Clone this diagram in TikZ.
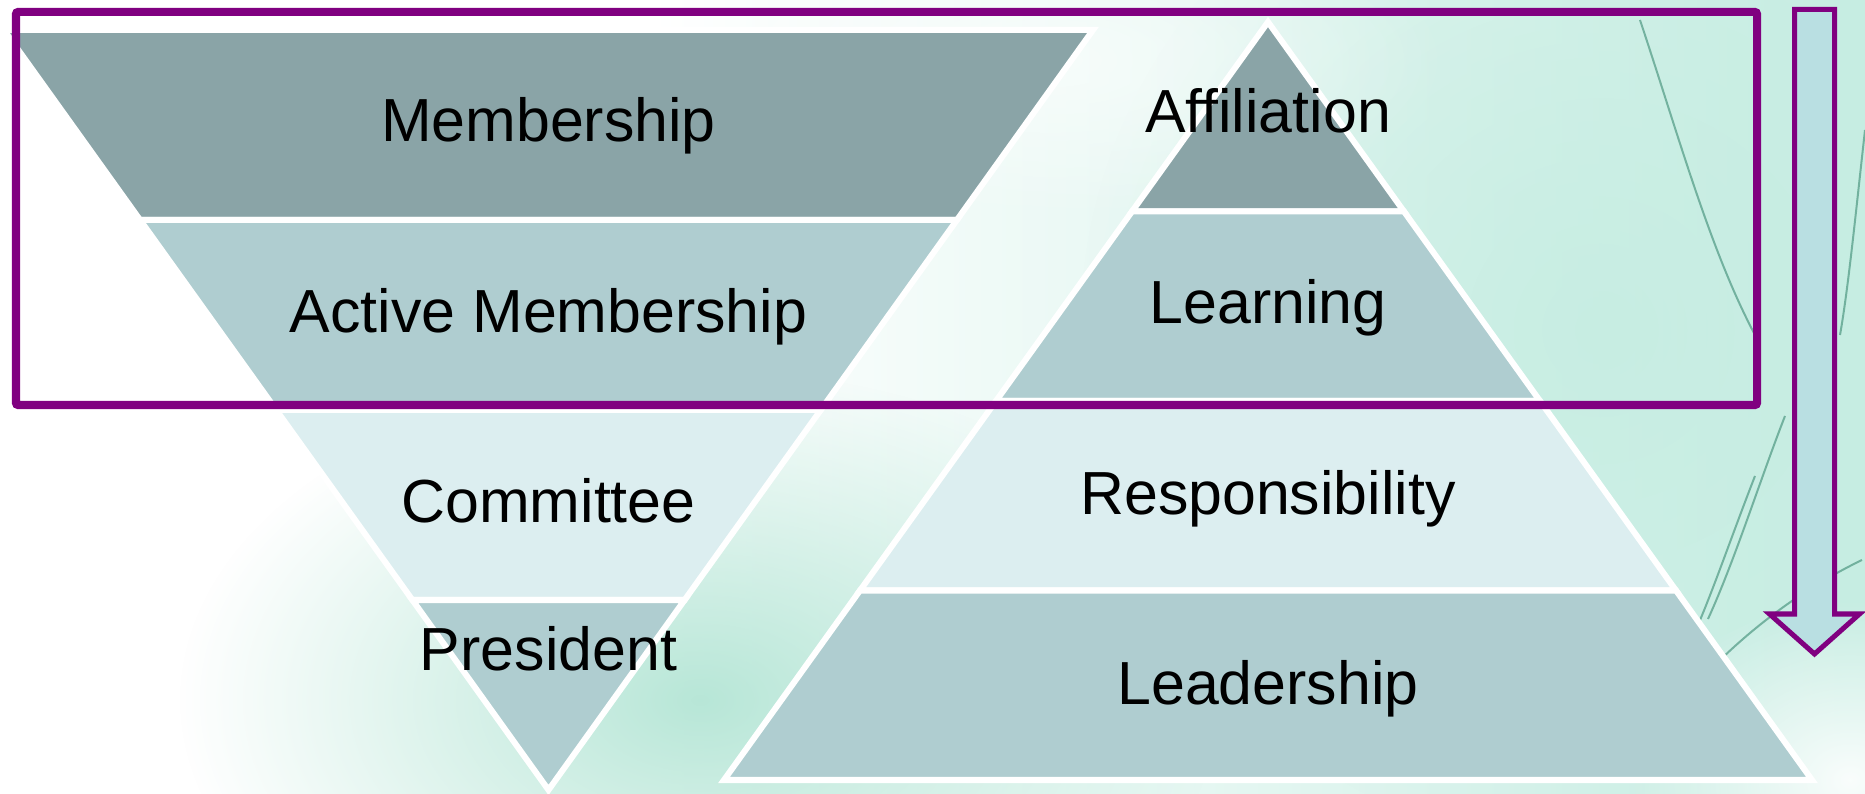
\documentclass[tikz,border=0pt]{standalone}
\usepackage{fontspec}
\setmainfont{Liberation Sans}
\usetikzlibrary{fadings}
\definecolor{bandDark}{HTML}{8AA4A7}
\definecolor{bandMid}{HTML}{AFCDD0}
\definecolor{bandLight}{HTML}{DCEEF0}
\definecolor{arrowFill}{HTML}{B9DFE2}
\definecolor{framePurple}{HTML}{800080}
\definecolor{mintA}{HTML}{C6EDE2}
\definecolor{mintB}{HTML}{B0E4D3}
\definecolor{stemGreen}{HTML}{3A8A72}
\tikzfading[name=softblob, inner color=transparent!0, outer color=transparent!100]
\begin{document}
\begin{tikzpicture}[x=0.01cm,y=-0.01cm,
  band/.style={draw=white,line width=0.06cm},
  lbl/.style={anchor=base,inner sep=0pt,font=\fontsize{17.3}{20}\selectfont},
  stem/.style={draw=stemGreen,line width=0.02cm,opacity=0.6},
  blob/.style={path fading=softblob}]
\useasboundingbox (0,0) rectangle (1865,794);
% background
\fill[white] (0,0) rectangle (1865,794);
\shade[left color=white,right color=mintA] (650,0) rectangle (1865,794);
\fill[mintB,fill opacity=0.9,blob] (700,700) ellipse [x radius=520, y radius=330];
\fill[mintA,fill opacity=0.9,blob] (1600,330) ellipse [x radius=520, y radius=520];
\fill[white,fill opacity=0.9,blob] (1850,780) ellipse [x radius=220, y radius=180];
\fill[white,fill opacity=0.6,blob] (1050,60) ellipse [x radius=400, y radius=160];
% stems
\draw[stem] (1640,20) .. controls (1680,140) and (1710,250) .. (1755,335);
\draw[stem] (1865,130) .. controls (1855,220) and (1848,290) .. (1840,335);
\draw[stem] (1785,416) .. controls (1760,480) and (1735,560) .. (1708,619);
\draw[stem] (1755,476) .. controls (1730,540) and (1710,600) .. (1690,643);
\draw[stem] (1862,560) .. controls (1800,590) and (1750,630) .. (1714,666);
% left inverted triangle
\path[band,fill=bandDark] (4,30) -- (1093,30) -- (956.9,220) -- (140.1,220) -- cycle;
\path[band,fill=bandMid] (140.1,220) -- (956.9,220) -- (820.75,410) -- (276.25,410) -- cycle;
\path[band,fill=bandLight] (276.25,410) -- (820.75,410) -- (684.6,600) -- (412.4,600) -- cycle;
\path[band,fill=bandMid] (412.4,600) -- (684.6,600) -- (548.5,790) -- cycle;
% right pyramid
\path[band,fill=bandDark] (1268,22) -- (1404,211.5) -- (1132,211.5) -- cycle;
\path[band,fill=bandMid] (1132,211.5) -- (1404,211.5) -- (1540,401) -- (996,401) -- cycle;
\path[band,fill=bandLight] (996,401) -- (1540,401) -- (1676,590.5) -- (860,590.5) -- cycle;
\path[band,fill=bandMid] (860,590.5) -- (1676,590.5) -- (1812,780) -- (724,780) -- cycle;
% labels
\node[lbl] (membership) at (548.5,142) {Membership};
\node[lbl] (active) at (548.5,333) {Active Membership};
\node[lbl] (committee) at (548.5,523) {Committee};
\node[lbl] (president) at (548.5,671) {President};
\node[lbl] (affiliation) at (1268,133) {Affiliation};
\node[lbl] (learning) at (1268,324) {Learning};
\node[lbl] (responsibility) at (1268,515) {Responsibility};
\node[lbl] (leadership) at (1268,705) {Leadership};
% frame
\draw[framePurple,line width=0.08cm,rounded corners=0.02cm] (16,12) rectangle (1757,405);
% arrow
\draw[framePurple,fill=arrowFill,line width=0.05cm] (1794.5,9.5) -- (1834.5,9.5) -- (1834.5,614) -- (1859.5,614) -- (1814.5,654) -- (1769.5,614) -- (1794.5,614) -- cycle;
\end{tikzpicture}
\end{document}
